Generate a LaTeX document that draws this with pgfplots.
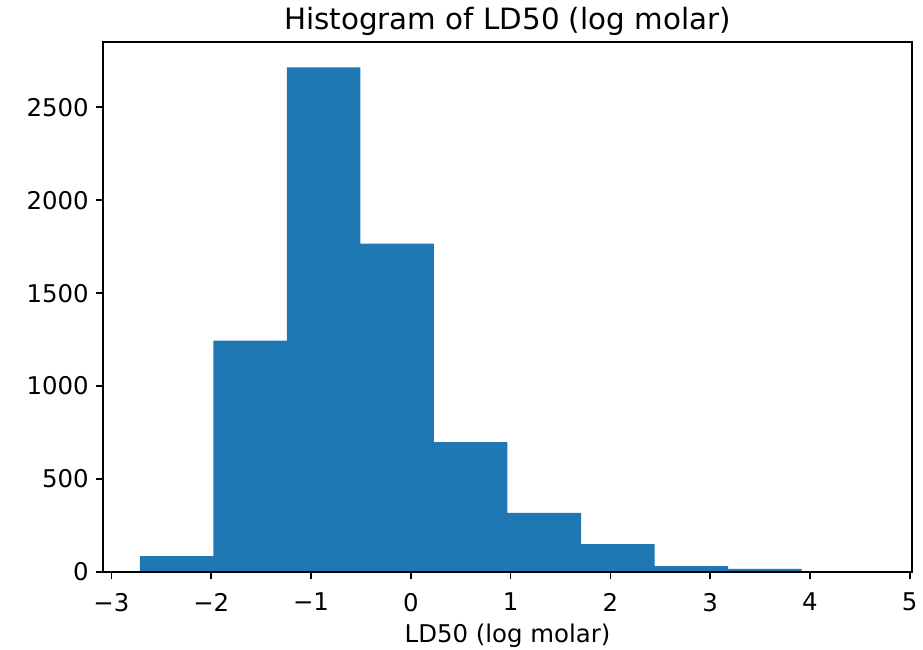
\documentclass[border=0pt]{standalone}
\usepackage{pgfplots}
\pgfplotsset{compat=1.18}
\usepackage{fontspec}
\setmainfont{DejaVu Sans}
\definecolor{c0}{HTML}{1F77B4}
\begin{document}
\begin{tikzpicture}
\begin{axis}[
  name=ax,
  scale only axis,
  width=606.75pt, height=397.5pt,
  xmin=-3.085, xmax=5.023,
  ymin=0, ymax=2851,
  axis line style={line width=1.2pt, black},
  tick style={line width=1.2pt, black},
  tick align=outside,
  xtick pos=bottom, ytick pos=left,
  major tick length=5.5pt,
  xtick={-3,-2,-1,0,1,2,3,4,5},
  xticklabels={−3,−2,−1,0,1,2,3,4,5},
  ytick={0,500,1000,1500,2000,2500},
  yticklabels={0,500,1000,1500,2000,2500},
  every tick label/.append style={font=\fontsize{18.3}{22}\selectfont, inner sep=0pt},
  xticklabel style={yshift=-10pt},
  yticklabel style={xshift=-5pt},
  title={Histogram of LD50 (log molar)},
  title style={font=\fontsize{22}{26}\selectfont, inner sep=0pt, anchor=base, yshift=3pt},
  xlabel={LD50 (log molar)},
  xlabel style={font=\fontsize{18.3}{22}\selectfont, inner sep=0pt, yshift=-9pt},
  axis on top,
]
\addplot[ybar interval, fill=c0, draw=none] coordinates {
  (-2.716,85) (-1.979,1245) (-1.242,2715) (-0.505,1767) (0.232,698)
  (0.969,318) (1.706,150) (2.443,31) (3.180,17) (3.917,2) (4.654,2)
};
\end{axis}
\pgfresetboundingbox
\path ([shift={(-77.25pt,-58.5pt)}]ax.south west) rectangle ([shift={(8.25pt,31.5pt)}]ax.north east);
\end{tikzpicture}
\end{document}
